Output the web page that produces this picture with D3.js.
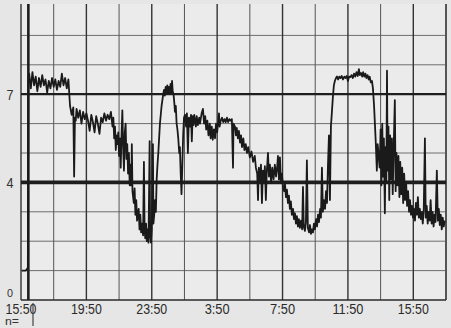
<!DOCTYPE html>
<html><head><meta charset="utf-8">
<script src="https://cdn.jsdelivr.net/npm/d3@7"></script>
<style>html,body{margin:0;padding:0;background:#e9e9e9;overflow:hidden}</style>
</head><body>
<svg id="c" width="451" height="328"></svg>
<script>
// hours since 15:50 for each tick label
const tickHours = [0, 4, 8, 12, 16, 20, 24];
const tickLabels = ["15:50", "19:50", "23:50", "3:50", "7:50", "11:50", "15:50"];
const gridHours = [0,2,4,6,8,10,12,14,16,18,20,22,24,26];
const gridPH = [1,2,3,5,6,8,9];
const refPH = [7, 4];
const yLabels = ["7", "4", "0"];
const yLabelValues = [7, 4, 0];
const markerHour = 0.45;

// pH trace: time (hours since 15:50) and pH
const traceHours = [
0.05,0.3,0.42,0.45,
0.5,0.6,0.7,0.8,0.9,1.0,1.1,1.2,1.3,1.4,1.5,1.6,1.7,1.8,1.9,2.0,2.1,2.2,2.3,2.4,2.5,2.6,2.7,2.8,2.9,
3.0,3.1,3.2,3.25,3.3,3.35,3.4,3.5,3.6,3.7,3.8,3.9,
4.0,4.1,4.2,4.3,4.4,4.5,4.6,4.7,4.8,4.9,5.0,5.1,5.2,5.3,5.4,5.5,
5.6,5.65,5.7,5.75,5.8,5.85,5.9,5.95,6.0,6.05,6.1,6.15,6.2,6.25,6.3,6.35,6.4,6.45,6.5,6.55,6.6,6.65,
6.7,6.75,6.78,6.82,6.9,6.95,7.0,7.05,7.1,7.2,7.25,7.3,7.35,7.4,7.47,7.52,7.56,7.6,7.65,7.7,7.75,7.8,7.87,7.9,7.95,8.0,8.07,8.1,8.15,8.2,8.25,
8.3,8.35,8.4,8.45,8.5,8.55,8.6,8.65,8.7,8.75,8.8,8.85,8.9,8.95,9.0,9.05,9.1,9.15,9.2,9.24,9.28,9.33,9.38,9.42,9.47,9.52,9.57,9.62,9.68,9.72,9.77,9.82,9.87,9.92,9.97,
10.03,10.1,10.15,10.21,10.27,10.33,10.4,10.45,10.5,10.55,10.6,10.7,10.75,10.82,10.9,10.95,11.05,11.13,11.2,11.27,11.33,11.4,11.47,11.55,11.6,11.67,11.73,11.8,11.87,11.93,12.0,12.07,12.11,12.15,12.22,12.3,12.37,12.45,12.52,12.6,12.67,12.75,12.82,12.9,12.97,13.0,
13.09,13.15,13.2,13.27,13.33,13.4,13.46,13.52,13.6,13.67,13.75,13.82,13.9,14.0,14.1,14.2,14.3,14.37,
14.45,14.5,14.55,14.62,14.68,14.74,14.8,14.86,14.92,14.98,15.03,15.11,15.17,15.23,15.3,15.37,15.45,15.53,15.6,15.67,15.72,15.78,15.84,15.9,15.96,16.02,
16.1,16.15,16.21,16.27,16.33,16.39,16.45,16.51,16.57,16.64,16.7,16.76,16.82,16.88,16.94,17.0,17.06,17.13,17.2,17.25,17.3,17.37,17.43,17.49,17.55,17.62,17.68,17.74,17.8,17.86,
17.92,17.98,18.05,18.11,18.17,18.23,18.3,18.35,18.41,18.47,18.53,18.6,18.66,18.72,18.78,18.84,18.9,18.96,19.02,19.08,19.14,19.2,19.27,19.33,
19.4,19.47,19.55,19.62,19.7,19.78,19.85,19.93,20.0,20.07,20.15,20.22,20.3,20.37,20.45,20.52,20.6,20.67,20.73,20.8,20.87,20.93,21.0,21.07,21.13,21.2,21.27,21.33,21.4,21.47,
21.53,21.6,21.65,21.7,21.77,21.82,21.88,21.94,
22.0,22.05,22.1,22.15,22.2,22.26,22.3,22.35,22.39,22.43,22.48,22.53,22.58,22.63,22.69,22.74,22.8,22.87,22.92,22.97,23.03,23.09,23.15,23.2,23.26,23.32,23.38,23.44,23.5,23.56,23.62,23.68,23.74,23.8,
23.86,23.92,23.98,24.04,24.1,24.16,24.22,24.28,24.34,24.4,24.46,24.52,24.58,24.64,24.71,24.76,24.82,24.88,24.94,25.0,25.06,25.12,25.18,25.24,25.3,25.36,25.44,25.5,25.56,25.62,25.68,25.74,25.8,25.86,25.93
];
const tracePH = [
1.0,1.0,1.1,7.5,
7.7,7.2,7.75,7.3,7.6,7.1,7.55,7.25,7.65,7.3,7.5,7.05,7.45,7.2,7.55,7.25,7.5,7.15,7.45,7.25,7.7,7.3,7.55,7.2,7.5,
6.6,6.3,6.55,4.2,6.2,6.1,6.5,6.2,6.45,6.0,6.4,6.15,
6.35,6.1,5.75,6.3,6.05,5.7,6.25,6.0,5.65,6.2,6.05,6.35,6.1,6.3,6.15,6.4,
5.9,6.2,5.5,5.9,5.1,5.6,5.3,5.7,4.9,5.5,4.5,5.6,6.45,5.2,4.4,5.7,6.0,4.8,5.3,4.3,5.0,3.9,
4.6,3.9,5.3,3.7,3.3,3.8,2.9,3.4,2.7,3.1,2.4,2.9,2.3,2.6,2.2,4.7,2.4,2.1,2.6,2.0,2.4,1.95,5.4,2.2,1.95,2.4,5.3,2.6,2.9,3.4,3.0,
4.1,4.6,5.0,5.5,6.0,6.3,6.6,6.8,7.0,7.15,6.95,7.25,7.0,7.3,7.05,7.25,7.0,7.35,7.05,7.45,7.1,7.0,6.7,6.4,6.6,6.0,5.8,5.5,5.0,5.2,4.3,3.6,4.6,5.6,6.2,
6.3,5.9,6.35,5.0,6.2,5.9,6.3,5.4,6.25,5.95,6.3,5.9,6.25,5.95,6.2,6.0,6.35,6.5,6.0,6.25,5.8,6.1,5.6,6.0,5.5,5.9,5.45,5.8,5.5,6.0,5.7,6.1,6.35,5.9,6.1,6.2,6.05,6.15,6.05,6.2,6.05,6.15,6.1,6.15,4.5,6.0,
5.9,5.6,5.85,5.5,5.75,5.35,5.6,5.2,5.5,5.1,5.3,5.0,5.2,4.85,5.05,4.7,4.9,4.5,
4.3,3.4,4.5,4.0,4.6,3.3,4.4,4.0,4.55,3.4,4.3,5.0,4.2,4.6,4.0,4.5,4.1,4.6,4.2,4.5,4.9,4.1,4.85,4.0,4.3,3.9,
3.7,3.95,3.5,3.75,3.3,3.55,3.1,3.35,2.9,3.1,2.75,2.95,2.6,2.85,2.5,2.75,2.45,2.7,2.4,3.85,2.5,2.35,2.65,4.75,2.45,2.3,2.55,2.25,2.4,2.3,
2.6,2.4,2.75,2.5,2.9,2.65,3.1,2.8,4.5,3.0,3.4,3.1,3.7,3.3,4.6,5.6,3.4,5.9,6.4,6.9,7.3,7.45,7.55,7.6,
7.5,7.6,7.55,7.62,7.5,7.6,7.55,7.62,7.45,7.6,7.58,7.65,7.55,7.7,7.6,7.75,7.62,7.85,7.65,7.72,7.6,7.75,7.6,7.7,7.55,7.65,7.5,7.6,7.4,7.45,
7.2,6.6,6.0,5.4,4.4,5.3,4.9,4.5,
5.8,3.9,6.0,4.2,5.5,2.95,5.2,4.0,7.8,4.4,5.9,3.4,5.6,4.1,5.5,3.6,5.2,6.8,3.7,5.0,3.9,4.9,3.5,4.7,3.6,4.5,3.3,4.3,3.4,4.0,3.2,3.7,3.0,3.4,
2.9,3.2,2.8,3.1,2.7,3.3,2.9,3.5,2.8,3.1,2.75,3.0,2.6,3.1,5.5,2.8,3.2,2.6,3.0,2.7,3.4,2.6,3.0,2.5,2.9,2.65,4.4,2.7,3.1,2.55,2.9,2.4,2.8,2.5,2.7
];

const svg = d3.select("#c");
const x = d3.scaleLinear().domain([0, 26]).range([21, 446]);
const y = d3.scaleLinear().domain([0, 10]).range([300, 6]);
const topY = 4;
const font = "'Liberation Sans Narrow','Liberation Sans',Arial,sans-serif";

svg.append("rect").attr("x",0).attr("y",0).attr("width",451).attr("height",328).attr("fill","#e6e6e6");
svg.append("rect").attr("x",x(0)).attr("y",topY).attr("width",x(26)-x(0)).attr("height",y(0)-topY).attr("fill","#ebebeb");

// horizontal grid
svg.append("g").selectAll("line").data(gridPH).join("line")
  .attr("x1", x(0)).attr("x2", x(26))
  .attr("y1", d => y(d)).attr("y2", d => y(d))
  .attr("stroke", "#6e6e6e").attr("stroke-width", 1);

// vertical grid
svg.append("g").selectAll("line").data(gridHours).join("line")
  .attr("x1", d => x(d)).attr("x2", d => x(d))
  .attr("y1", topY).attr("y2", y(0))
  .attr("stroke", d => d % 4 === 0 ? "#333" : "#555")
  .attr("stroke-width", d => d === 26 ? 2 : (d % 4 === 0 ? 1.4 : 1));

// reference lines pH 7 and 4
svg.append("g").selectAll("line").data(refPH).join("line")
  .attr("x1", x(0)).attr("x2", x(26))
  .attr("y1", d => y(d)).attr("y2", d => y(d))
  .attr("stroke", "#1e1e1e").attr("stroke-width", d => d === 4 ? 3.6 : 2.2);

// bottom axis line
svg.append("line").attr("x1", x(0)).attr("x2", x(26)).attr("y1", y(0)).attr("y2", y(0))
  .attr("stroke", "#2a2a2a").attr("stroke-width", 1.6);

// marker line
svg.append("line").attr("x1", x(markerHour)).attr("x2", x(markerHour)).attr("y1", topY).attr("y2", y(0))
  .attr("stroke", "#1e1e1e").attr("stroke-width", 2.6);

// trace
const pts = traceHours.map((h, i) => [h, tracePH[i]]);
svg.append("path").datum(pts)
  .attr("d", d3.line().x(d => x(d[0])).y(d => y(d[1])))
  .attr("fill", "none").attr("stroke", "#1a1a1a").attr("stroke-width", 1.8)
  .attr("stroke-linejoin", "round");

// x tick labels
svg.append("g").selectAll("text").data(tickHours).join("text")
  .attr("x", d => x(d)).attr("y", 314)
  .attr("text-anchor", "middle")
  .attr("font-family", font)
  .attr("font-size", 14).attr("fill", "#2a2a2a")
  .attr("textLength", (d, i) => tickLabels[i].length === 5 ? 31 : 25)
  .attr("lengthAdjust", "spacingAndGlyphs")
  .text((d, i) => tickLabels[i]);

// y labels
svg.append("g").selectAll("text").data(yLabelValues).join("text")
  .attr("x", 10).attr("y", d => d === 0 ? 297 : y(d) + 6)
  .attr("text-anchor", "middle")
  .attr("font-family", font)
  .attr("font-size", d => d === 0 ? 11 : 15).attr("fill", "#333")
  .attr("textLength", d => d === 0 ? 6 : 7).attr("lengthAdjust", "spacingAndGlyphs")
  .text((d, i) => yLabels[i]);

// n= footer
svg.append("text").attr("x", 5).attr("y", 325)
  .attr("font-family", font)
  .attr("font-size", 10).attr("fill", "#333")
  .attr("textLength", 14).attr("lengthAdjust", "spacingAndGlyphs")
  .text("n=");
svg.append("line").attr("x1", 33).attr("x2", 33).attr("y1", 303).attr("y2", 326)
  .attr("stroke", "#444").attr("stroke-width", 1.2);
</script>
</body></html>
